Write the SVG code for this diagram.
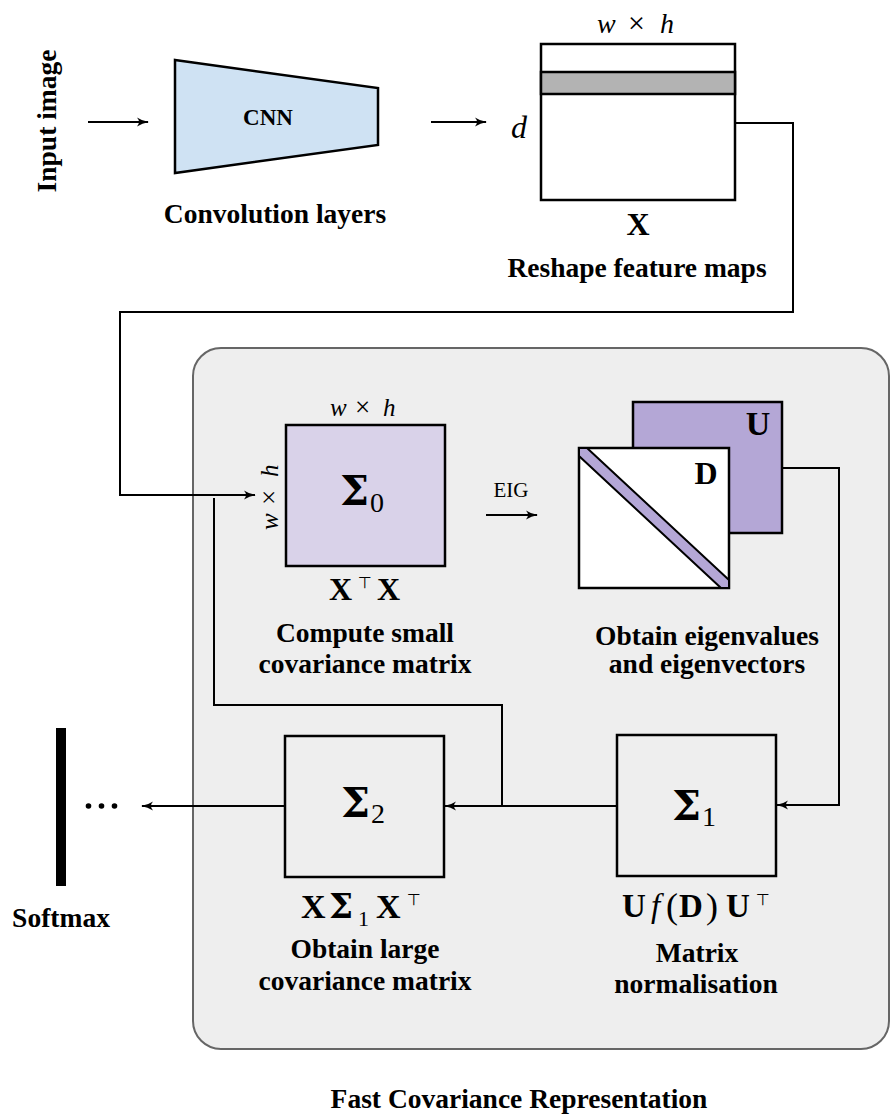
<svg xmlns="http://www.w3.org/2000/svg" width="892" height="1117" viewBox="0 0 892 1117">
<defs>
<style>
text{font-family:"Liberation Serif","Times New Roman",serif;fill:#000}
.lbl{font-weight:bold;font-size:27.5px;text-anchor:middle}
.mi{font-style:italic}
.mb{font-weight:bold}
.sg{font-family:"DejaVu Serif",serif;font-weight:bold}
.top{font-family:"DejaVu Sans",sans-serif;font-weight:normal}
.box{stroke:#000;stroke-width:2.5}
.con{fill:none;stroke:#000;stroke-width:2}
</style>
<marker id="ah" viewBox="0 0 12 10" refX="11" refY="5" markerWidth="12" markerHeight="10" markerUnits="userSpaceOnUse" orient="auto">
<path d="M0,0.5 Q5,4 12,5 Q5,6 0,9.5 Q4,5 0,0.5 Z" fill="#000"/>
</marker>
</defs>
<rect width="892" height="1117" fill="#fff"/>

<g id="container">
<rect x="193" y="348" width="696" height="701" rx="28" fill="#eeeeee" stroke="#666" stroke-width="2"/>
</g>

<g id="connectors">
<line class="con" x1="88" y1="122" x2="148" y2="122" marker-end="url(#ah)"/>
<line class="con" x1="431" y1="122" x2="486" y2="122" marker-end="url(#ah)"/>
<path class="con" d="M735,123 H793 V312 H120 V495 H255" marker-end="url(#ah)"/>
<line class="con" x1="486" y1="515" x2="537" y2="515" marker-end="url(#ah)"/>
<path class="con" d="M782,468 H839 V805 H777" marker-end="url(#ah)"/>
<path class="con" d="M214,498 V705 H502 V806"/>
<line class="con" x1="617" y1="806" x2="445" y2="806" marker-end="url(#ah)"/>
<line class="con" x1="285" y1="806" x2="142" y2="806" marker-end="url(#ah)"/>
</g>

<g id="input">
<text class="lbl" transform="translate(56,121) rotate(-90)">Input image</text>
</g>

<g id="cnn">
<polygon class="box" points="175,60 378,88 378,145 175,173" fill="#cfe2f3"/>
<text x="268" y="125" text-anchor="middle" class="mb" font-size="23">CNN</text>
<text class="lbl" x="275" y="223">Convolution layers</text>
</g>

<g id="reshape">
<rect class="box" x="541" y="44" width="194" height="156" fill="#fff"/>
<rect class="box" x="541" y="72" width="194" height="22" fill="#b3b3b3"/>
<text y="33" font-size="28"><tspan class="mi" x="597">w</tspan><tspan x="628" font-size="30">×</tspan><tspan class="mi" x="660">h</tspan></text>
<text class="mi" x="519" y="138" text-anchor="middle" font-size="32">d</text>
<text class="mb" x="638" y="235" text-anchor="middle" font-size="32">X</text>
<text class="lbl" x="637" y="277">Reshape feature maps</text>
</g>

<g id="sigma0">
<rect class="box" x="286" y="425" width="159" height="141" fill="#d9d2e9"/>
<text y="416" font-size="25"><tspan class="mi" x="330">w</tspan><tspan x="355" font-size="27">×</tspan><tspan class="mi" x="383">h</tspan></text>
<text transform="translate(278,530) rotate(-90)" font-size="25"><tspan class="mi" x="0">w</tspan><tspan x="25" font-size="27">×</tspan><tspan class="mi" x="53">h</tspan></text>
<text x="340" y="505"><tspan class="sg" font-size="41">Σ</tspan><tspan x="370" y="512" font-size="28">0</tspan></text>
<text y="600" font-size="32"><tspan class="mb" x="329">X</tspan><tspan class="top" x="358" y="588" font-size="16">⊤</tspan><tspan class="mb" x="377" y="600">X</tspan></text>
<text class="lbl" x="365" y="642">Compute small</text>
<text class="lbl" x="365" y="673">covariance matrix</text>
</g>

<g id="eig">
<text x="511" y="497" text-anchor="middle" font-size="21">EIG</text>
</g>

<g id="eigen">
<rect class="box" x="633" y="402" width="149" height="131" fill="#b4a7d6"/>
<rect class="box" x="579" y="448" width="150" height="140" fill="#fff"/>
<polygon points="579,448 587,448 729,580 729,588 721,588 579,456" fill="#b4a7d6" stroke="#000" stroke-width="2" stroke-linejoin="round"/>
<text class="mb" x="758" y="435" text-anchor="middle" font-size="34">U</text>
<text class="mb" x="706" y="484" text-anchor="middle" font-size="32">D</text>
<text class="lbl" x="707" y="645">Obtain eigenvalues</text>
<text class="lbl" x="707" y="673">and eigenvectors</text>
</g>

<g id="sigma1">
<rect class="box" x="617" y="735" width="159" height="141" fill="none"/>
<text x="672" y="820"><tspan class="sg" font-size="41">Σ</tspan><tspan x="702" y="826" font-size="28">1</tspan></text>
<text y="917" font-size="33"><tspan class="mb" x="622">U</tspan><tspan class="mi" x="651">f</tspan><tspan x="666" font-size="36" y="918">(</tspan><tspan class="mb" x="679" y="917">D</tspan><tspan x="706" font-size="36" y="918">)</tspan><tspan class="mb" x="726" y="917">U</tspan><tspan class="top" x="756" y="905" font-size="16">⊤</tspan></text>
<text class="lbl" x="697" y="962">Matrix</text>
<text class="lbl" x="696" y="993">normalisation</text>
</g>

<g id="sigma2">
<rect class="box" x="285" y="736" width="159" height="141" fill="none"/>
<text x="341" y="817"><tspan class="sg" font-size="41">Σ</tspan><tspan x="371" y="823" font-size="28">2</tspan></text>
<text y="918" font-size="34"><tspan class="mb" x="301">X</tspan><tspan class="sg" x="329" font-size="34">Σ</tspan><tspan x="358" y="926" font-size="22">1</tspan><tspan class="mb" x="376" y="918">X</tspan><tspan class="top" x="407" y="905" font-size="16">⊤</tspan></text>
<text class="lbl" x="365" y="958">Obtain large</text>
<text class="lbl" x="365" y="990">covariance matrix</text>
</g>

<g id="softmax">
<rect x="56" y="728" width="10" height="158" fill="#000"/>
<circle cx="88.5" cy="806" r="2.8" fill="#000"/>
<circle cx="101.5" cy="806" r="2.8" fill="#000"/>
<circle cx="114.5" cy="806" r="2.8" fill="#000"/>
<text class="lbl" x="61" y="927">Softmax</text>
</g>

<g id="title">
<text class="lbl" x="519" y="1108">Fast Covariance Representation</text>
</g>
</svg>
